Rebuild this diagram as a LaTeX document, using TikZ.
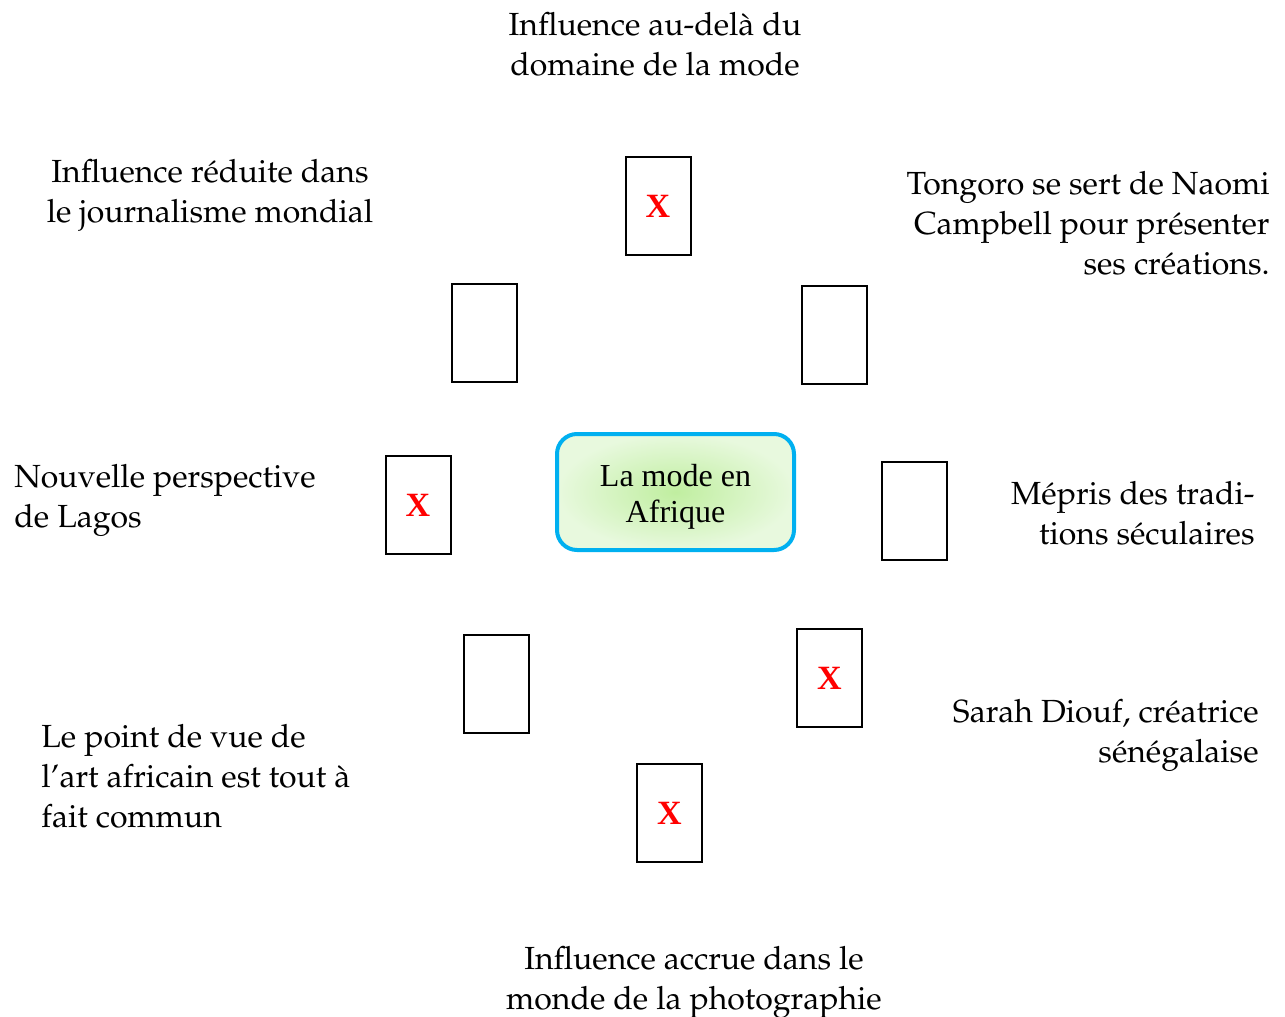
\documentclass[tikz,border=0pt]{standalone}
\usepackage[T1]{fontenc}
\usepackage{fontspec}
\usepackage{tikz}
\usetikzlibrary{positioning}
\newfontfamily\timesfont{Liberation Serif}
\IfFileExists{t1ppl.fd}
  {\newcommand\pagella{\fontencoding{T1}\fontfamily{ppl}\selectfont\fontsize{16}{20}\selectfont}}
  {\newcommand\pagella{\timesfont\fontsize{17.5}{20}\selectfont}}
\definecolor{ringblue}{RGB}{0,176,240}
\definecolor{leafin}{RGB}{192,238,160}
\definecolor{leafout}{RGB}{232,249,222}

\begin{document}
\begin{tikzpicture}[
    x=0.5pt, y=-0.5pt,
    cell/.style={draw, line width=1pt, minimum width=32.5pt, minimum height=49pt, inner sep=0pt},
    crossed/.style={cell, text=red, font=\timesfont\bfseries\fontsize{17}{20}\selectfont},
    note/.style={inner sep=0pt, align=center, font=\pagella},
    core/.style={draw=ringblue, line width=2pt, rounded corners=10pt, inner color=leafin, outer color=leafout,
      minimum width=118.5pt, minimum height=58pt, align=center, font=\timesfont\fontsize{16}{18}\selectfont}
  ]
  \useasboundingbox (0,0) rectangle (1285,1017);

  % Centre
  \node[core] (mode) at (675.5,492) {\rule{0pt}{16pt}La mode en\\Afrique};

  % Boxes
  \node[crossed] (top) at (658,206) {X};
  \node[cell] (upleft) at (484,333) {};
  \node[cell] (upright) at (834,335) {};
  \node[crossed] (left) at (418,505) {X};
  \node[cell] (right) at (914,511) {};
  \node[cell] (lowleft) at (496,684) {};
  \node[crossed] (lowright) at (829.5,678) {X};
  \node[crossed] (bottom) at (669.5,813) {X};

  % Texts
  \node[note, anchor=north] (topnote) at (655,12) {Influence au-delà du\\domaine de la mode};
  \node[note, anchor=north] (upleftnote) at (210,159) {Influence réduite dans\\le journalisme mondial};
  \node[note, anchor=north east, align=right] (uprightnote) at (1270,171) {Tongoro se sert de Naomi\\Campbell pour présenter\\ses créations.};
  \node[note, anchor=north west, align=left] (leftnote) at (14,464) {Nouvelle perspective\\de Lagos};
  \node[note, anchor=north east, align=right] (rightnote) at (1255,481) {Mépris des tradi-\\tions séculaires};
  \node[note, anchor=north east, align=right] (lowrightnote) at (1259,699) {Sarah Diouf, créatrice\\sénégalaise};
  \node[note, anchor=north west, align=left] (lowleftnote) at (41,724) {Le point de vue de\\l'art africain est tout à\\fait commun};
  \node[note, anchor=north] (bottomnote) at (694,946) {Influence accrue dans le\\monde de la photographie};

\end{tikzpicture}
\end{document}
